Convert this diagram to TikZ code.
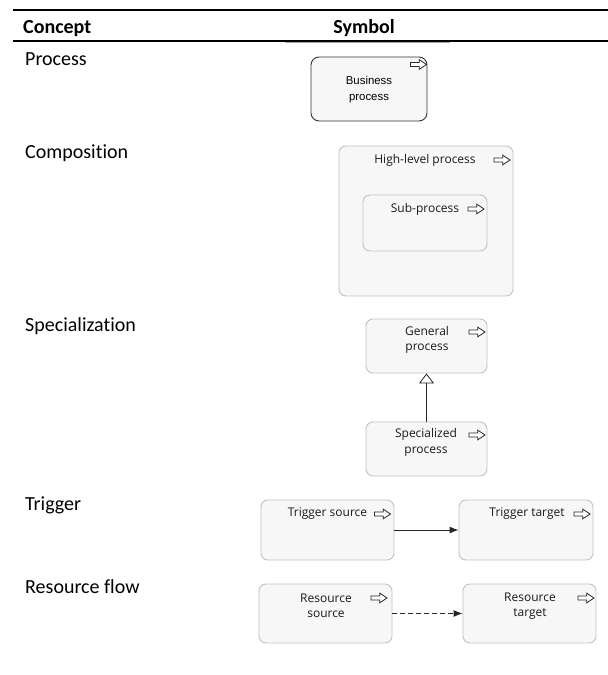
\documentclass[tikz,border=0pt]{standalone}
\usepackage{fontspec}
\setmainfont{Carlito}[Ligatures=NoCommon]
\newfontfamily\boxfont{Open Sans}[Ligatures=NoCommon]
\newfontfamily\arialfont{Liberation Sans}
\usetikzlibrary{arrows.meta}

\tikzset{
  proc/.style={draw=black!24, fill=black!3, rounded corners=7pt, line width=0.9pt,
               inner sep=0pt},
  mainproc/.style={draw=black!80, fill=black!3, rounded corners=8pt, line width=0.9pt,
               inner sep=0pt},
  concept/.style={anchor=base west, font=\fontsize{20}{24}\selectfont, inner sep=0pt},
  header/.style={anchor=base, font=\fontsize{20}{24}\selectfont\bfseries, inner sep=0pt},
  boxtext/.style={font=\boxfont\fontsize{12}{15.5}\selectfont, align=center,
               inner sep=0pt, text=black!90},
  icon/.pic={
    \draw[line width=0.8pt, black!85, fill=white, line join=miter]
      (-8,-2) -- (0.8,-2) -- (0.8,-4.8) -- (8,0) -- (0.8,4.8) -- (0.8,2)
      -- (-8,2) -- cycle;
  }
}

\begin{document}
\begin{tikzpicture}[x=1pt, y=-1pt]
\useasboundingbox (0,0) rectangle (608,675);

% table rules and headings
\draw[line width=2pt] (13,10) -- (608,10);
\draw[line width=2pt] (13,41) -- (608,41);
\draw[line width=0.6pt, black!35] (285,42.5) -- (450,42.5);
\node[header, anchor=base west] (hconcept) at (23,33) {Concept};
\node[header] (hsymbol) at (364,33) {Symbol};

% concept names
\node[concept] (cproc) at (25,65) {Process};
\node[concept] (ccomp) at (25,158) {Composition};
\node[concept] (cspec) at (25,331) {Specialization};
\node[concept] (ctrig) at (25,510) {Trigger};
\node[concept] (cres)  at (25,593) {Resource flow};

% process
\node[mainproc, minimum width=116pt, minimum height=64pt] (bp) at (369,89) {};
\node[font=\arialfont\fontsize{11.4}{16}\selectfont, align=center, inner sep=0pt]
  (bptext) at (369,90) {Business\\process};
\pic at (418.5,64.5) {icon};

% composition
\node[proc, minimum width=174pt, minimum height=150pt] (high) at (426,221) {};
\node[proc, minimum width=124pt, minimum height=56pt] (sub) at (425,223) {};
\node[boxtext] (hightext) at (425,160) {High-level process};
\node[boxtext] (subtext) at (425,209) {Sub-process};
\pic at (502,160) {icon};
\pic at (476,209) {icon};

% specialization
\node[proc, minimum width=121pt, minimum height=54pt] (gen) at (426.5,346) {};
\node[proc, minimum width=121pt, minimum height=54pt] (spc) at (426.5,449) {};
\node[boxtext] (gentext) at (427,340) {General\\process};
\node[boxtext] (spctext) at (426,442.5) {Specialized\\process};
\pic at (477,332) {icon};
\pic at (477,435) {icon};
\draw[line width=0.8pt, black!85,
      -{Triangle[open, length=10pt, width=15pt, line width=0.8pt]}]
  (spc.north) -- (gen.south);

% trigger
\node[proc, minimum width=133pt, minimum height=60pt] (tsrc) at (327.5,530) {};
\node[proc, minimum width=134pt, minimum height=60pt] (ttgt) at (526,530) {};
\node[boxtext] (tsrctext) at (327.5,514) {Trigger source};
\node[boxtext] (ttgttext) at (527,514) {Trigger target};
\pic at (382.5,514) {icon};
\pic at (582,514) {icon};
\draw[line width=0.9pt, black!85, -{Latex[length=9pt, width=7pt]}]
  (tsrc.east) -- (ttgt.west);

% resource flow
\node[proc, minimum width=133pt, minimum height=59pt] (rsrc) at (325.5,613.5) {};
\node[proc, minimum width=133pt, minimum height=59pt] (rtgt) at (529.5,613.5) {};
\node[boxtext] (rsrctext) at (326,606) {Resource\\source};
\node[boxtext] (rtgttext) at (530,606) {Resource\\target};
\pic at (379,598) {icon};
\pic at (586,598) {icon};
\draw[line width=0.9pt, black!85, dash pattern=on 5pt off 3pt,
      -{Latex[length=9pt, width=7pt]}]
  (rsrc.east) -- (rtgt.west);
\end{tikzpicture}
\end{document}
